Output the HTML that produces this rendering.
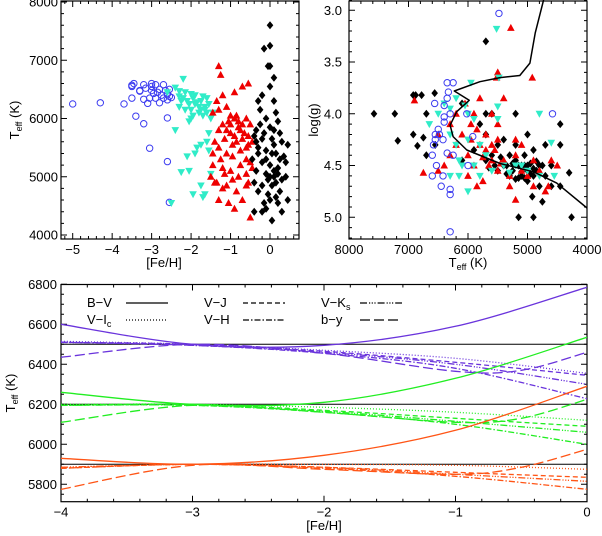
<!DOCTYPE html>
<html><head><meta charset="utf-8"><style>
html,body{margin:0;padding:0;background:#fff}
svg{display:block;font-family:"Liberation Sans",Arial,sans-serif}
</style></head><body>
<svg id="fig" width="602" height="536" viewBox="0 0 602 536" xmlns="http://www.w3.org/2000/svg">
<defs>
<clipPath id="clipB"><rect x="61" y="284.5" width="526" height="217.2"/></clipPath>
<clipPath id="clipR"><rect x="349" y="0" width="238" height="239"/></clipPath>
</defs>
<g id="panelL"></g>
<g id="panelR"></g>
<g id="panelB"></g>
</svg>
<script>
// ---------- Top-left data: [Fe/H] vs Teff ----------
const blueFeh=[-5,-4.3,-3.7,-3.5,-3.45,-3.5,-3.4,-3.2,-3.05,-2.6,-2.55,-2.6,-3.3,-3.3,-3.2,-3.2,-3.1,-3.0,-3.0,-2.95,-2.9,-2.9,-2.8,-2.8,-2.75,-2.7,-2.7,-2.65,-2.6,-2.55,-2.55,-2.5,-3.05,-3.15,-3.5,-2.85,-3.0,-2.6];
const blueTeff=[6250,6270,6250,6570,6600,6350,6040,5910,5490,5260,4560,6010,6470,6480,6580,6330,6260,6600,6550,6430,6580,6350,6500,6270,6400,6580,6350,6480,6420,6500,6380,6360,6350,6520,6550,6450,6480,6320];
const cyanFeh=[-2.2,-2.4,-2.3,-2.3,-2.2,-2.1,-2.0,-1.95,-1.9,-1.85,-1.8,-1.75,-1.7,-1.6,-1.55,-1.65,-1.7,-1.8,-2.0,-2.05,-1.95,-2.3,-2.15,-2.05,-1.6,-1.5,-1.55,-2.4,-1.75,-1.6,-1.9,-2.1,-1.85,-2.05,-1.5,-1.75,-1.7,-1.65,-1.95,-2.25,-2.5,-1.55,-1.45,-2.6,-2.0,-1.9,-2.15,-1.75,-1.65,-2.25];
const cyanTeff=[6680,6530,6470,6380,6350,6300,6420,6350,6400,6280,6200,6300,6380,6350,6250,6150,6050,6100,6000,5950,6050,6200,6450,6250,6100,6000,5750,5800,5550,5600,5400,5350,5500,5100,5050,4850,4650,4700,4700,5080,4550,5450,6100,6450,6150,6250,6150,6150,6200,6300];
const redFeh=[-1.3,-1.25,-0.55,-0.7,-0.9,-1.2,-1.35,-1.1,-1.0,-0.9,-0.8,-0.7,-0.6,-0.5,-1.45,-1.3,-1.2,-1.1,-1.0,-0.9,-0.8,-0.65,-0.55,-0.45,-1.4,-1.3,-1.1,-0.95,-0.75,-0.6,-0.5,-1.45,-1.2,-1.0,-0.8,-0.6,-0.45,-1.35,-1.1,-0.85,-0.6,-0.55,-1.3,-1.05,-0.9,-0.7,-0.5,-1.4,-1.2,-0.95,-1.15,-1.3,-0.7,-0.85,-1.0,-0.6,-1.45,-1.5,-1.15,-0.75,-0.95,-0.55,-1.05,-0.75,-0.85,-1.25];
const redTeff=[6900,6750,6600,6550,6450,6400,6300,6200,6050,6000,5950,5900,6000,5900,6100,6150,5900,5800,5750,5700,5850,5750,5700,5600,5600,5500,5400,5350,5450,5300,5250,5200,5150,5100,5000,5050,5150,4900,4850,4750,4850,4900,4600,4550,4450,4600,4300,4900,4800,5550,5650,5800,5650,6050,5900,5500,5400,5000,5050,5200,4950,5550,5950,5800,5600,5300];
const blackFeh=[0,0,-0.15,0,-0.05,0.1,0,-0.2,-0.3,0.1,-0.25,0.15,-0.1,0.2,-0.35,0,0.1,0.25,-0.4,-0.2,0.05,0.3,0.45,-0.3,-0.1,0.15,0.35,-0.45,-0.2,0,0.2,-0.35,-0.1,0.1,0.3,-0.4,-0.2,0.05,0.25,-0.3,-0.05,0.15,-0.15,0.2,-0.4,-0.1,0.05,0.3,0.45,0.4,0.4,-0.25,0.05,-0.15,0.1,-0.05,0.25,-0.3,0,-0.2,0.1,-0.1,0.2,-0.35,0.0,0.15];
const blackTeff=[7600,7250,7200,6900,6900,6700,6550,6400,6300,6300,6150,6100,6000,5950,5800,5850,5800,5750,5700,5650,5650,5600,5550,5500,5450,5400,5350,5300,5250,5200,5150,5100,5050,5000,4950,4900,4850,4850,4750,4750,4700,4650,4550,4550,4400,4450,4250,4400,4600,5000,5250,5900,5400,5750,5100,4950,5300,5400,4600,4400,5550,5300,5050,5600,5000,4900];
// ---------- Top-right data: Teff vs log g ----------
const rBlackTeff=[7580,7230,7180,6920,6850,6920,6880,6780,6560,6700,6750,6700,6550,5700,5200,5700,5600,6100,5800,5700,5500,5400,5200,5000,4900,4700,4450,4450,4600,5300,5200,5100,5000,4900,4800,4700,4600,4450,4300,5400,5600,5700,5900,6100,5000,5100,4750,4920,5150,4900,4260,5300,5500,4800,5050,5350,5250,5150,5050,4950,4850,4750,5450,5350,5250,5150,5050,4950,4850,5550,5650,5000,4900,5100,5200];
const rBlackLogg=[4.0,4.0,4.26,4.2,4.31,3.82,3.82,3.82,3.8,4.0,4.23,4.4,4.3,3.3,4.0,4.0,4.0,3.9,4.1,4.2,4.3,4.25,4.3,4.2,4.35,4.3,4.3,4.1,4.5,4.4,4.45,4.5,4.55,4.6,4.5,4.6,4.7,4.7,4.57,4.5,4.4,4.45,4.35,4.45,4.65,4.6,4.85,4.8,5.0,5.0,5.0,4.6,4.55,4.7,4.4,4.5,4.55,4.5,4.62,4.48,4.55,4.5,4.42,4.58,4.48,4.62,4.5,4.58,4.46,4.5,4.52,4.5,4.53,4.56,4.63];
const rRedTeff=[5280,4920,5500,5520,6900,6750,6500,6300,6200,6050,5950,5900,5800,5700,5600,5500,5400,5800,5700,5600,5500,6000,5900,6100,6200,5400,5300,5200,5100,5000,4900,4800,4700,4600,4500,4650,5300,5200,6500,5750,6000,6300,5600,5200,6400,5850,5500,5100,4900,5950,5650,5450,5750,5550,5850];
const rRedLogg=[3.17,3.65,3.6,3.65,3.87,4.57,4.2,4.1,4.3,3.9,4.1,4.0,3.85,4.2,4.0,4.1,3.85,4.3,4.35,4.45,4.25,4.4,4.5,4.2,4.0,4.45,4.6,4.4,4.55,4.6,4.7,4.55,4.75,4.45,4.5,4.7,4.7,4.83,4.55,4.65,4.6,4.4,4.3,4.25,4.5,4.7,4.55,4.3,4.45,4.25,4.5,4.48,4.42,4.35,4.15];
const rCyanTeff=[5520,5500,5480,5950,6200,6050,6500,6400,6300,6000,4800,6650,6300,6200,6000,5800,6150,6100,5900,5700,5600,5400,5200,5000,4800,5800,6000,6300,4550,4600,5900,5500,6150,5300,5100];
const rCyanLogg=[3.18,3.93,3.65,3.7,3.85,3.92,4.0,3.9,3.95,4.0,4.0,4.1,4.2,4.3,4.25,4.3,4.45,4.5,4.5,4.4,4.55,4.5,4.5,4.55,4.6,4.6,4.75,4.6,4.6,4.28,4.05,4.05,4.6,4.57,4.5];
const rBlueTeff=[5480,6350,6250,6330,6560,6350,6400,6300,6400,6500,6550,6480,6420,6580,6600,6530,6600,6420,6450,6300,6300,6300,6020,6000,5920,4580,6350,6250,6550,6400];
const rBlueLogg=[3.03,3.7,3.7,3.79,3.9,3.85,3.92,4.0,4.03,4.15,4.2,4.2,4.25,4.3,4.4,4.5,4.6,4.6,4.7,4.73,4.78,5.14,4.0,4.5,4.22,4.0,4.38,4.4,4.25,4.08];
const isoTeff=[4000,4510,4900,5460,6020,6250,6300,6190,5980,6230,5800,5460,5130,4960,4870,4730];
const isoLogg=[4.91,4.67,4.56,4.48,4.35,4.22,4.11,3.98,3.87,3.78,3.69,3.65,3.63,3.51,3.22,2.9];
// ---------- Bottom data: Teff vs [Fe/H] per colour ----------
const fehGrid=[-4,-3,-2,-1,0];
const byGrid=[-4,-3,-2,-1,-0.5,0];
const purpleBV=[6600,6500,6495,6590,6785];
const purpleVI=[6515,6500,6470,6430,6355];
const purpleVJ=[6510,6500,6465,6410,6345];
const purpleVH=[6510,6495,6455,6380,6228];
const purpleVK=[6510,6495,6460,6400,6300];
const purpleBY=[6435,6500,6455,6365,6370,6460];
const greenBV=[6260,6200,6210,6330,6535];
const greenVI=[6200,6200,6185,6160,6120];
const greenVJ=[6195,6200,6170,6130,6090];
const greenVH=[6195,6195,6160,6100,6000];
const greenVK=[6195,6195,6165,6115,6060];
const greenBY=[6110,6195,6160,6110,6130,6225];
const orangeBV=[5930,5900,5945,6070,6290];
const orangeVI=[5885,5900,5900,5895,5875];
const orangeVJ=[5880,5900,5885,5860,5835];
const orangeVH=[5880,5900,5880,5840,5775];
const orangeVK=[5885,5900,5885,5850,5815];
const orangeBY=[5775,5895,5875,5850,5885,5975];
const refLevels=[6500,6200,5900];
const legendLabels=["B\u2212V","V\u2212J","V\u2212K","V\u2212I","V\u2212H","b\u2212y"];
</script>
<script>
const NS="http://www.w3.org/2000/svg";
const FS=13;
function mk(tag,attrs,parent){const e=document.createElementNS(NS,tag);for(const k in attrs)e.setAttribute(k,attrs[k]);parent.appendChild(e);return e;}
const pL=document.getElementById('panelL'),pR=document.getElementById('panelR'),pB=document.getElementById('panelB');
function lin(d0,d1,p0,p1){return v=>p0+(v-d0)*(p1-p0)/(d1-d0);}
const xL=lin(-5,0,72.7,270), yL=lin(8000,4000,2,235);
const xR=lin(8000,4000,349,587), yR=lin(3.0,5.0,10.3,217.3);
const xB=lin(-4,0,61,587), yB=lin(6400,6600,364.3,324.3);

function frame(g,x0,y0,x1,y1){
  const r=mk('rect',{x:x0,y:y0,width:x1-x0,height:y1-y0,fill:'none',stroke:'#000','stroke-width':1.2},g);
  
  
}
function xticks(g,sx,vals,minor,y0,y1,labels){
  let d='';
  vals.forEach(v=>{const x=sx(v);d+=`M${x},${y1}v-6M${x},${y0}v6`;});
  minor.forEach(v=>{const x=sx(v);d+=`M${x},${y1}v-3M${x},${y0}v3`;});
  const p=mk('path',{d:d,stroke:'#000','stroke-width':1,fill:'none'},g);
  
  
  if(labels)vals.forEach((v,i)=>{const t=mk('text',{x:sx(v),y:y1+15,'font-size':FS,'text-anchor':'middle'},g);t.textContent=labels[i];
    
    });
}
function yticks(g,sy,vals,minor,x0,x1,labels,lx){
  let d='';
  vals.forEach(v=>{const y=sy(v);d+=`M${x0},${y}h6M${x1},${y}h-6`;});
  minor.forEach(v=>{const y=sy(v);d+=`M${x0},${y}h3M${x1},${y}h-3`;});
  const p=mk('path',{d:d,stroke:'#000','stroke-width':1,fill:'none'},g);
  
  
  vals.forEach((v,i)=>{const t=mk('text',{x:lx,y:sy(v)+4.5,'font-size':FS,'text-anchor':'end'},g);t.textContent=labels[i];
    
    });
}
function range(a,b,s){const r=[];for(let v=a;v<=b+1e-9;v+=s)r.push(Math.round(v*1000)/1000);return r;}
function marker(g,type,x,y,color){
  let e;
  if(type==='diamond')e=mk('path',{d:`M${x},${y-4}L${x+3.3},${y}L${x},${y+4}L${x-3.3},${y}Z`,fill:color},g);
  else if(type==='up')e=mk('path',{d:`M${x},${y-4}L${x+3.8},${y+3}L${x-3.8},${y+3}Z`,fill:color},g);
  else if(type==='down')e=mk('path',{d:`M${x},${y+4}L${x+3.8},${y-3}L${x-3.8},${y-3}Z`,fill:color},g);
  else e=mk('circle',{cx:x,cy:y,r:3.2,fill:'none',stroke:color,'stroke-width':1},g);
  return e;
}
function scatter(g,xs,ys,sx,sy,type,color,name){
  xs.forEach((v,i)=>{const e=marker(g,type,sx(v),sy(ys[i]),color);
    
    });
}
const BLUE='#3c3cf0',CYAN='#30ecc8',RED='#ee0000',BLK='#000';

// ---- Top-left panel ----
frame(pL,61,1,299,239);
xticks(pL,xL,[-5,-4,-3,-2,-1,0],range(-5.2,0.6,0.2),1,239,['\u22125','\u22124','\u22123','\u22122','\u22121','0']);
yticks(pL,yL,[4000,5000,6000,7000,8000],range(4000,8000,200),61,299,['4000','5000','6000','7000','8000'],58);
scatter(pL,blueFeh,blueTeff,xL,yL,'circle',BLUE,'metal-poor-star');
scatter(pL,cyanFeh,cyanTeff,xL,yL,'down',CYAN,'intermediate-star');
scatter(pL,redFeh,redTeff,xL,yL,'up',RED,'mild-metal-poor-star');
scatter(pL,blackFeh,blackTeff,xL,yL,'diamond',BLK,'solar-metallicity-star');
{const t=mk('text',{x:164,y:267,'font-size':FS,'text-anchor':'middle'},pL);t.textContent='[Fe/H]';
}
{const t=mk('text',{x:0,y:0,'font-size':FS,'text-anchor':'middle',transform:'translate(19,120) rotate(-90)'},pL);
t.innerHTML='T<tspan font-size="9" dy="3">eff</tspan><tspan dy="-3">  (K)</tspan>';
}

// ---- Top-right panel ----
frame(pR,349,1,587,239);
xticks(pR,xR,[8000,7000,6000,5000,4000],range(4000,8000,200),1,239,['8000','7000','6000','5000','4000']);
yticks(pR,yR,[3.0,3.5,4.0,4.5,5.0],range(2.9,5.2,0.1),349,587,['3.0','3.5','4.0','4.5','5.0'],342);
const gRc=mk('g',{'clip-path':'url(#clipR)'},pR);
scatter(gRc,rBlackTeff,rBlackLogg,xR,yR,'diamond',BLK,'solar-metallicity-star');
scatter(gRc,rRedTeff,rRedLogg,xR,yR,'up',RED,'mild-metal-poor-star');
scatter(gRc,rCyanTeff,rCyanLogg,xR,yR,'down',CYAN,'intermediate-star');
scatter(gRc,rBlueTeff,rBlueLogg,xR,yR,'circle',BLUE,'metal-poor-star');
{let d='';isoTeff.forEach((v,i)=>{d+=(i?'L':'M')+xR(v).toFixed(1)+','+yR(isoLogg[i]).toFixed(1);});
const p=mk('path',{d:d,fill:'none',stroke:'#000','stroke-width':1.5,'stroke-linejoin':'round'},gRc);
}
{const t=mk('text',{x:468,y:267,'font-size':FS,'text-anchor':'middle'},pR);
t.innerHTML='T<tspan font-size="9" dy="3">eff</tspan><tspan dy="-3">  (K)</tspan>';
}
{const t=mk('text',{x:0,y:0,'font-size':FS,'text-anchor':'middle',transform:'translate(318,120) rotate(-90)'},pR);t.textContent='log(g)';
}

// ---- Bottom panel ----
frame(pB,61,284.5,587,501.7);
xticks(pB,xB,[-4,-3,-2,-1,0],range(-4,0,0.2),284.5,501.7,['\u22124','\u22123','\u22122','\u22121','0']);
yticks(pB,yB,[5800,6000,6200,6400,6600,6800],range(5750,6800,50),61,587,['5800','6000','6200','6400','6600','6800'],57);
{const t=mk('text',{x:324,y:530,'font-size':FS,'text-anchor':'middle'},pB);t.textContent='[Fe/H]';
}
{const t=mk('text',{x:0,y:0,'font-size':FS,'text-anchor':'middle',transform:'translate(15,393) rotate(-90)'},pB);
t.innerHTML='T<tspan font-size="9" dy="3">eff</tspan><tspan dy="-3">  (K)</tspan>';
}
const gBc=mk('g',{'clip-path':'url(#clipB)'},pB);
refLevels.forEach(v=>{const l=mk('line',{x1:61,x2:587,y1:yB(v),y2:yB(v),stroke:'#000','stroke-width':1},gBc);
});
const DASH={BV:'',VI:'1,2',VJ:'5,3',VH:'6,2,1.5,2',VK:'7,2,1.2,1.5,1.2,1.5,1.2,2',BY:'10,4'};
function curve(g,fx,ty,color,dash,name){
  const P=fx.map((v,i)=>[xB(v),yB(ty[i])]);
  let d=`M${P[0][0]},${P[0][1]}`;
  for(let i=0;i<P.length-1;i++){
    const p0=P[i-1]||P[i],p1=P[i],p2=P[i+1],p3=P[i+2]||P[i+1];
    const c1=[p1[0]+(p2[0]-p0[0])/6,p1[1]+(p2[1]-p0[1])/6];
    const c2=[p2[0]-(p3[0]-p1[0])/6,p2[1]-(p3[1]-p1[1])/6];
    d+=`C${c1[0].toFixed(1)},${c1[1].toFixed(1)} ${c2[0].toFixed(1)},${c2[1].toFixed(1)} ${p2[0].toFixed(1)},${p2[1].toFixed(1)}`;
  }
  const p=mk('path',{d:d,fill:'none',stroke:color,'stroke-width':1.3},g);
  if(dash)p.setAttribute('stroke-dasharray',dash);
  
  
}
const groups=[['#6a34dc',purpleBV,purpleVI,purpleVJ,purpleVH,purpleVK,purpleBY,'6500'],
              ['#22ee22',greenBV,greenVI,greenVJ,greenVH,greenVK,greenBY,'6200'],
              ['#ff5516',orangeBV,orangeVI,orangeVJ,orangeVH,orangeVK,orangeBY,'5900']];
groups.forEach(g=>{
  curve(gBc,fehGrid,g[2],g[0],DASH.VI,'v-ic-curve-'+g[7]);
  curve(gBc,fehGrid,g[3],g[0],DASH.VJ,'v-j-curve-'+g[7]);
  curve(gBc,fehGrid,g[4],g[0],DASH.VH,'v-h-curve-'+g[7]);
  curve(gBc,fehGrid,g[5],g[0],DASH.VK,'v-ks-curve-'+g[7]);
  curve(gBc,byGrid,g[6],g[0],DASH.BY,'b-y-curve-'+g[7]);
  curve(gBc,fehGrid,g[1],g[0],DASH.BV,'b-v-curve-'+g[7]);
});
const legPos=[[87,303,126,'BV'],[204,303,243,'VJ'],[321,303,360,'VK'],[87,320,126,'VI'],[204,320,243,'VH'],[321,320,360,'BY']];
legPos.forEach((p,i)=>{
  const t=mk('text',{x:p[0],y:p[1]+4,'font-size':FS},pB);
  if(p[3]==='VK')t.innerHTML='V\u2212K<tspan font-size="9" dy="3">s</tspan>';
  else if(p[3]==='VI')t.innerHTML='V\u2212I<tspan font-size="9" dy="3">c</tspan>';
  else t.textContent=legendLabels[i];
  
  
  const l=mk('line',{x1:p[2],x2:p[2]+42,y1:p[1],y2:p[1],stroke:'#000','stroke-width':1.2},pB);
  if(DASH[p[3]])l.setAttribute('stroke-dasharray',DASH[p[3]]);
  
  
});
</script>
</body></html>
